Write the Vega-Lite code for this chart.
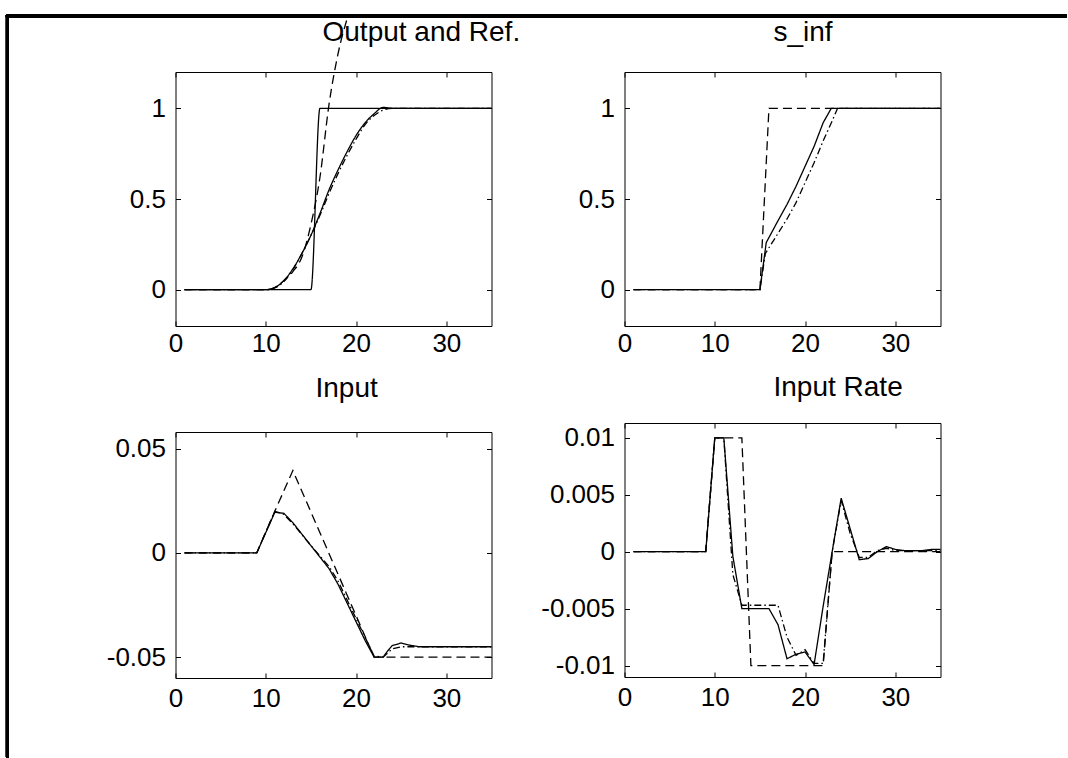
{
  "$schema": "https://vega.github.io/schema/vega-lite/v6.json",
  "padding": {"left": 4.5, "top": 12, "right": 0, "bottom": 0},
  "background": "white",
  "bounds": "flush",
  "spacing": 449,
  "config": {
    "font": "Liberation Sans",
    "view": {"stroke": "black", "strokeWidth": 1},
    "axis": {"grid": false, "domain": false, "ticks": true, "tickSize": -5, "tickColor": "black", "tickWidth": 1, "labelFont": "Liberation Sans", "labelFontSize": 26, "labelColor": "black", "labelPadding": 12, "labelFlush": false, "labelOverlap": false},
    "title": {"font": "Liberation Sans", "fontSize": 28, "fontWeight": "normal", "color": "black", "anchor": "start", "frame": "group", "baseline": "alphabetic"},
    "line": {"color": "black", "strokeWidth": 1.3}
  },
  "datasets": {
    "out": [
      {"s": "Ref.", "x": 1, "y": 0}, {"s": "Ref.", "x": 15, "y": 0}, {"s": "Ref.", "x": 16, "y": 1}, {"s": "Ref.", "x": 35, "y": 1},
      {"s": "Run 1", "x": 1, "y": 0}, {"s": "Run 1", "x": 10, "y": 0}, {"s": "Run 1", "x": 11, "y": 0.012}, {"s": "Run 1", "x": 12, "y": 0.05}, {"s": "Run 1", "x": 13, "y": 0.115}, {"s": "Run 1", "x": 14, "y": 0.2}, {"s": "Run 1", "x": 15, "y": 0.3}, {"s": "Run 1", "x": 16, "y": 0.42}, {"s": "Run 1", "x": 17, "y": 0.55}, {"s": "Run 1", "x": 18, "y": 0.66}, {"s": "Run 1", "x": 19, "y": 0.76}, {"s": "Run 1", "x": 20, "y": 0.85}, {"s": "Run 1", "x": 21, "y": 0.92}, {"s": "Run 1", "x": 22, "y": 0.97}, {"s": "Run 1", "x": 23, "y": 1.005}, {"s": "Run 1", "x": 24, "y": 1.0}, {"s": "Run 1", "x": 35, "y": 1.0},
      {"s": "Run 2", "x": 1, "y": 0}, {"s": "Run 2", "x": 10, "y": 0}, {"s": "Run 2", "x": 11, "y": 0.012}, {"s": "Run 2", "x": 12, "y": 0.05}, {"s": "Run 2", "x": 13, "y": 0.1}, {"s": "Run 2", "x": 14, "y": 0.18}, {"s": "Run 2", "x": 15, "y": 0.36}, {"s": "Run 2", "x": 16, "y": 0.62}, {"s": "Run 2", "x": 17, "y": 1.02}, {"s": "Run 2", "x": 18, "y": 1.3}, {"s": "Run 2", "x": 19.1, "y": 1.5087},
      {"s": "Run 3", "x": 1, "y": 0}, {"s": "Run 3", "x": 10, "y": 0}, {"s": "Run 3", "x": 11, "y": 0.01}, {"s": "Run 3", "x": 12, "y": 0.045}, {"s": "Run 3", "x": 13, "y": 0.11}, {"s": "Run 3", "x": 14, "y": 0.2}, {"s": "Run 3", "x": 15, "y": 0.3}, {"s": "Run 3", "x": 16, "y": 0.41}, {"s": "Run 3", "x": 17, "y": 0.53}, {"s": "Run 3", "x": 18, "y": 0.64}, {"s": "Run 3", "x": 19, "y": 0.74}, {"s": "Run 3", "x": 20, "y": 0.83}, {"s": "Run 3", "x": 21, "y": 0.91}, {"s": "Run 3", "x": 22, "y": 0.96}, {"s": "Run 3", "x": 23, "y": 0.99}, {"s": "Run 3", "x": 24, "y": 1.0}, {"s": "Run 3", "x": 35, "y": 1.0}
    ],
    "sinf": [
      {"s": "Run 2", "x": 1, "y": 0}, {"s": "Run 2", "x": 15, "y": 0}, {"s": "Run 2", "x": 16, "y": 1}, {"s": "Run 2", "x": 35, "y": 1},
      {"s": "Run 1", "x": 1, "y": 0}, {"s": "Run 1", "x": 15, "y": 0}, {"s": "Run 1", "x": 15.7, "y": 0.26}, {"s": "Run 1", "x": 17, "y": 0.38}, {"s": "Run 1", "x": 18, "y": 0.47}, {"s": "Run 1", "x": 19, "y": 0.57}, {"s": "Run 1", "x": 20, "y": 0.68}, {"s": "Run 1", "x": 21, "y": 0.79}, {"s": "Run 1", "x": 22, "y": 0.92}, {"s": "Run 1", "x": 22.9, "y": 1.0}, {"s": "Run 1", "x": 35, "y": 1.0},
      {"s": "Run 3", "x": 1, "y": 0}, {"s": "Run 3", "x": 15, "y": 0}, {"s": "Run 3", "x": 15.6, "y": 0.2}, {"s": "Run 3", "x": 17, "y": 0.31}, {"s": "Run 3", "x": 18, "y": 0.39}, {"s": "Run 3", "x": 19, "y": 0.48}, {"s": "Run 3", "x": 20, "y": 0.59}, {"s": "Run 3", "x": 21, "y": 0.7}, {"s": "Run 3", "x": 22, "y": 0.82}, {"s": "Run 3", "x": 23, "y": 0.93}, {"s": "Run 3", "x": 23.6, "y": 1.0}, {"s": "Run 3", "x": 35, "y": 1.0}
    ],
    "inp": [
      {"s": "Run 1", "x": 1, "y": 0}, {"s": "Run 1", "x": 9, "y": 0}, {"s": "Run 1", "x": 11, "y": 0.0195}, {"s": "Run 1", "x": 12, "y": 0.019}, {"s": "Run 1", "x": 13, "y": 0.0145}, {"s": "Run 1", "x": 14, "y": 0.009}, {"s": "Run 1", "x": 15, "y": 0.0035}, {"s": "Run 1", "x": 16, "y": -0.002}, {"s": "Run 1", "x": 17, "y": -0.0075}, {"s": "Run 1", "x": 18, "y": -0.015}, {"s": "Run 1", "x": 19, "y": -0.024}, {"s": "Run 1", "x": 20, "y": -0.033}, {"s": "Run 1", "x": 21, "y": -0.042}, {"s": "Run 1", "x": 22, "y": -0.05}, {"s": "Run 1", "x": 23, "y": -0.05}, {"s": "Run 1", "x": 23.5, "y": -0.047}, {"s": "Run 1", "x": 24, "y": -0.0445}, {"s": "Run 1", "x": 25, "y": -0.0432}, {"s": "Run 1", "x": 26, "y": -0.0443}, {"s": "Run 1", "x": 27, "y": -0.045}, {"s": "Run 1", "x": 35, "y": -0.045},
      {"s": "Run 2", "x": 1, "y": 0}, {"s": "Run 2", "x": 9, "y": 0}, {"s": "Run 2", "x": 11, "y": 0.02}, {"s": "Run 2", "x": 13, "y": 0.0395}, {"s": "Run 2", "x": 22, "y": -0.05}, {"s": "Run 2", "x": 35, "y": -0.05},
      {"s": "Run 3", "x": 1, "y": 0}, {"s": "Run 3", "x": 9, "y": 0}, {"s": "Run 3", "x": 11, "y": 0.02}, {"s": "Run 3", "x": 12, "y": 0.0185}, {"s": "Run 3", "x": 13, "y": 0.014}, {"s": "Run 3", "x": 14, "y": 0.0088}, {"s": "Run 3", "x": 15, "y": 0.0035}, {"s": "Run 3", "x": 16, "y": -0.0015}, {"s": "Run 3", "x": 17, "y": -0.0065}, {"s": "Run 3", "x": 18, "y": -0.0135}, {"s": "Run 3", "x": 19, "y": -0.0225}, {"s": "Run 3", "x": 20, "y": -0.0315}, {"s": "Run 3", "x": 21, "y": -0.0405}, {"s": "Run 3", "x": 22, "y": -0.0495}, {"s": "Run 3", "x": 23, "y": -0.05}, {"s": "Run 3", "x": 24, "y": -0.046}, {"s": "Run 3", "x": 25, "y": -0.045}, {"s": "Run 3", "x": 35, "y": -0.045}
    ],
    "rate": [
      {"s": "Run 1", "x": 1, "y": 0}, {"s": "Run 1", "x": 9, "y": 0}, {"s": "Run 1", "x": 10, "y": 0.01}, {"s": "Run 1", "x": 11, "y": 0.01}, {"s": "Run 1", "x": 12, "y": -0.0004}, {"s": "Run 1", "x": 13, "y": -0.005}, {"s": "Run 1", "x": 16, "y": -0.005}, {"s": "Run 1", "x": 17, "y": -0.0064}, {"s": "Run 1", "x": 18, "y": -0.0094}, {"s": "Run 1", "x": 19, "y": -0.009}, {"s": "Run 1", "x": 20, "y": -0.0088}, {"s": "Run 1", "x": 21, "y": -0.0099}, {"s": "Run 1", "x": 22, "y": -0.0048}, {"s": "Run 1", "x": 23, "y": 0.0}, {"s": "Run 1", "x": 24, "y": 0.0047}, {"s": "Run 1", "x": 25, "y": 0.002}, {"s": "Run 1", "x": 26, "y": -0.0007}, {"s": "Run 1", "x": 27, "y": -0.0006}, {"s": "Run 1", "x": 28, "y": 0.0}, {"s": "Run 1", "x": 29, "y": 0.00045}, {"s": "Run 1", "x": 30, "y": 0.0002}, {"s": "Run 1", "x": 31, "y": 0.0001}, {"s": "Run 1", "x": 33, "y": 0.0001}, {"s": "Run 1", "x": 34, "y": 0.0002}, {"s": "Run 1", "x": 35, "y": 0.0002},
      {"s": "Run 2", "x": 1, "y": 0}, {"s": "Run 2", "x": 9, "y": 0}, {"s": "Run 2", "x": 10, "y": 0.01}, {"s": "Run 2", "x": 13, "y": 0.01}, {"s": "Run 2", "x": 14, "y": -0.01}, {"s": "Run 2", "x": 22, "y": -0.01}, {"s": "Run 2", "x": 23, "y": 0}, {"s": "Run 2", "x": 35, "y": 0},
      {"s": "Run 3", "x": 1, "y": 0}, {"s": "Run 3", "x": 9, "y": 0}, {"s": "Run 3", "x": 10, "y": 0.01}, {"s": "Run 3", "x": 11, "y": 0.01}, {"s": "Run 3", "x": 12, "y": -0.002}, {"s": "Run 3", "x": 13, "y": -0.0047}, {"s": "Run 3", "x": 17, "y": -0.0047}, {"s": "Run 3", "x": 18, "y": -0.0075}, {"s": "Run 3", "x": 19, "y": -0.0091}, {"s": "Run 3", "x": 20, "y": -0.0086}, {"s": "Run 3", "x": 21, "y": -0.0098}, {"s": "Run 3", "x": 22, "y": -0.0098}, {"s": "Run 3", "x": 23, "y": 0}, {"s": "Run 3", "x": 24, "y": 0.0045}, {"s": "Run 3", "x": 25, "y": 0.0016}, {"s": "Run 3", "x": 26, "y": -0.0005}, {"s": "Run 3", "x": 27, "y": -0.0005}, {"s": "Run 3", "x": 28, "y": 0.0001}, {"s": "Run 3", "x": 29, "y": 0.0003}, {"s": "Run 3", "x": 30, "y": 0.0001}, {"s": "Run 3", "x": 35, "y": 0.0001}
    ]
  },
  "hconcat": [
    {
      "bounds": "flush",
      "spacing": 106,
      "vconcat": [
        {
          "width": 316, "height": 254,
          "title": {"text": "Output and Ref.", "dx": 147, "offset": -34},
          "data": {"name": "out"},
          "layer": [
            {
              "mark": {"type": "line", "interpolate": "monotone", "clip": false},
              "encoding": {
                "x": {"field": "x", "type": "quantitative", "scale": {"domain": [0, 35], "nice": false, "zero": false}, "axis": {"orient": "bottom", "values": [0, 10, 20, 30], "labelExpr": "'' + datum.value", "labelPadding": 9}, "title": null},
                "y": {"field": "y", "type": "quantitative", "scale": {"domain": [-0.2, 1.2], "nice": false, "zero": false}, "axis": {"orient": "left", "values": [0, 0.5, 1], "labelExpr": "'' + datum.value", "labelPadding": 15}, "title": null},
                "strokeDash": {"field": "s", "type": "nominal", "scale": {"domain": ["Ref.", "Run 1", "Run 2", "Run 3"], "range": [[1, 0], [1, 0], [9, 5], [7, 3, 1.5, 3]]}, "legend": null}
              }
            },
            {
              "mark": {"type": "line", "strokeOpacity": 0},
              "encoding": {
                "x": {"field": "x", "type": "quantitative", "scale": {"domain": [0, 35], "nice": false, "zero": false}, "axis": {"orient": "top", "values": [0, 10, 20, 30], "labels": false}, "title": null},
                "y": {"field": "y", "type": "quantitative", "scale": {"domain": [-0.2, 1.2], "nice": false, "zero": false}, "axis": {"orient": "right", "values": [0, 0.5, 1], "labels": false}, "title": null}
              }
            },
            {
              "mark": {"type": "rule", "color": "black", "strokeWidth": 3, "strokeCap": "square", "clip": false},
              "encoding": {
                "x": {"datum": -18.61, "type": "quantitative", "scale": {"domain": [0, 35], "nice": false, "zero": false}, "axis": null},
                "x2": {"datum": 98.5},
                "y": {"datum": 1.5087, "type": "quantitative", "scale": {"domain": [-0.2, 1.2], "nice": false, "zero": false}, "axis": null}
              }
            },
            {
              "mark": {"type": "rule", "color": "black", "strokeWidth": 3, "strokeCap": "square", "clip": false},
              "encoding": {
                "x": {"datum": -18.61, "type": "quantitative", "scale": {"domain": [0, 35], "nice": false, "zero": false}, "axis": null},
                "y": {"datum": 1.5087, "type": "quantitative", "scale": {"domain": [-0.2, 1.2], "nice": false, "zero": false}, "axis": null},
                "y2": {"datum": -2.57}
              }
            }
          ],
          "resolve": {"axis": {"x": "independent", "y": "independent"}}
        },
        {
          "width": 316, "height": 246,
          "title": {"text": "Input", "dx": 140, "offset": 29},
          "data": {"name": "inp"},
          "layer": [
            {
              "mark": {"type": "line"},
              "encoding": {
                "x": {"field": "x", "type": "quantitative", "scale": {"domain": [0, 35], "nice": false, "zero": false}, "axis": {"orient": "bottom", "values": [0, 10, 20, 30], "labelExpr": "'' + datum.value"}, "title": null},
                "y": {"field": "y", "type": "quantitative", "scale": {"domain": [-0.06, 0.058], "nice": false, "zero": false}, "axis": {"orient": "left", "values": [-0.05, 0, 0.05], "labelExpr": "'' + datum.value", "labelPadding": 15}, "title": null},
                "strokeDash": {"field": "s", "type": "nominal", "scale": {"domain": ["Ref.", "Run 1", "Run 2", "Run 3"], "range": [[1, 0], [1, 0], [9, 5], [7, 3, 1.5, 3]]}, "legend": null}
              }
            },
            {
              "mark": {"type": "line", "strokeOpacity": 0},
              "encoding": {
                "x": {"field": "x", "type": "quantitative", "scale": {"domain": [0, 35], "nice": false, "zero": false}, "axis": {"orient": "top", "values": [0, 10, 20, 30], "labels": false}, "title": null},
                "y": {"field": "y", "type": "quantitative", "scale": {"domain": [-0.06, 0.058], "nice": false, "zero": false}, "axis": {"orient": "right", "values": [-0.05, 0, 0.05], "labels": false}, "title": null}
              }
            }
          ],
          "resolve": {"axis": {"x": "independent", "y": "independent"}}
        }
      ]
    },
    {
      "bounds": "flush",
      "spacing": 97,
      "vconcat": [
        {
          "width": 316, "height": 254,
          "title": {"text": "s_inf", "dx": 149, "offset": 25},
          "data": {"name": "sinf"},
          "layer": [
            {
              "mark": {"type": "line"},
              "encoding": {
                "x": {"field": "x", "type": "quantitative", "scale": {"domain": [0, 35], "nice": false, "zero": false}, "axis": {"orient": "bottom", "values": [0, 10, 20, 30], "labelExpr": "'' + datum.value", "labelPadding": 9}, "title": null},
                "y": {"field": "y", "type": "quantitative", "scale": {"domain": [-0.2, 1.2], "nice": false, "zero": false}, "axis": {"orient": "left", "values": [0, 0.5, 1], "labelExpr": "'' + datum.value", "labelPadding": 15}, "title": null},
                "strokeDash": {"field": "s", "type": "nominal", "scale": {"domain": ["Ref.", "Run 1", "Run 2", "Run 3"], "range": [[1, 0], [1, 0], [9, 5], [7, 3, 1.5, 3]]}, "legend": null}
              }
            },
            {
              "mark": {"type": "line", "strokeOpacity": 0},
              "encoding": {
                "x": {"field": "x", "type": "quantitative", "scale": {"domain": [0, 35], "nice": false, "zero": false}, "axis": {"orient": "top", "values": [0, 10, 20, 30], "labels": false}, "title": null},
                "y": {"field": "y", "type": "quantitative", "scale": {"domain": [-0.2, 1.2], "nice": false, "zero": false}, "axis": {"orient": "right", "values": [0, 0.5, 1], "labels": false}, "title": null}
              }
            }
          ],
          "resolve": {"axis": {"x": "independent", "y": "independent"}}
        },
        {
          "width": 316, "height": 254,
          "title": {"text": "Input Rate", "dx": 149, "offset": 21},
          "data": {"name": "rate"},
          "layer": [
            {
              "mark": {"type": "line"},
              "encoding": {
                "x": {"field": "x", "type": "quantitative", "scale": {"domain": [0, 35], "nice": false, "zero": false}, "axis": {"orient": "bottom", "values": [0, 10, 20, 30], "labelExpr": "'' + datum.value"}, "title": null},
                "y": {"field": "y", "type": "quantitative", "scale": {"domain": [-0.011, 0.0113], "nice": false, "zero": false}, "axis": {"orient": "left", "values": [-0.01, -0.005, 0, 0.005, 0.01], "labelExpr": "'' + datum.value", "labelPadding": 15}, "title": null},
                "strokeDash": {"field": "s", "type": "nominal", "scale": {"domain": ["Ref.", "Run 1", "Run 2", "Run 3"], "range": [[1, 0], [1, 0], [9, 5], [7, 3, 1.5, 3]]}, "legend": null}
              }
            },
            {
              "mark": {"type": "line", "strokeOpacity": 0},
              "encoding": {
                "x": {"field": "x", "type": "quantitative", "scale": {"domain": [0, 35], "nice": false, "zero": false}, "axis": {"orient": "top", "values": [0, 10, 20, 30], "labels": false}, "title": null},
                "y": {"field": "y", "type": "quantitative", "scale": {"domain": [-0.011, 0.0113], "nice": false, "zero": false}, "axis": {"orient": "right", "values": [-0.01, -0.005, 0, 0.005, 0.01], "labels": false}, "title": null}
              }
            }
          ],
          "resolve": {"axis": {"x": "independent", "y": "independent"}}
        }
      ]
    }
  ]
}
